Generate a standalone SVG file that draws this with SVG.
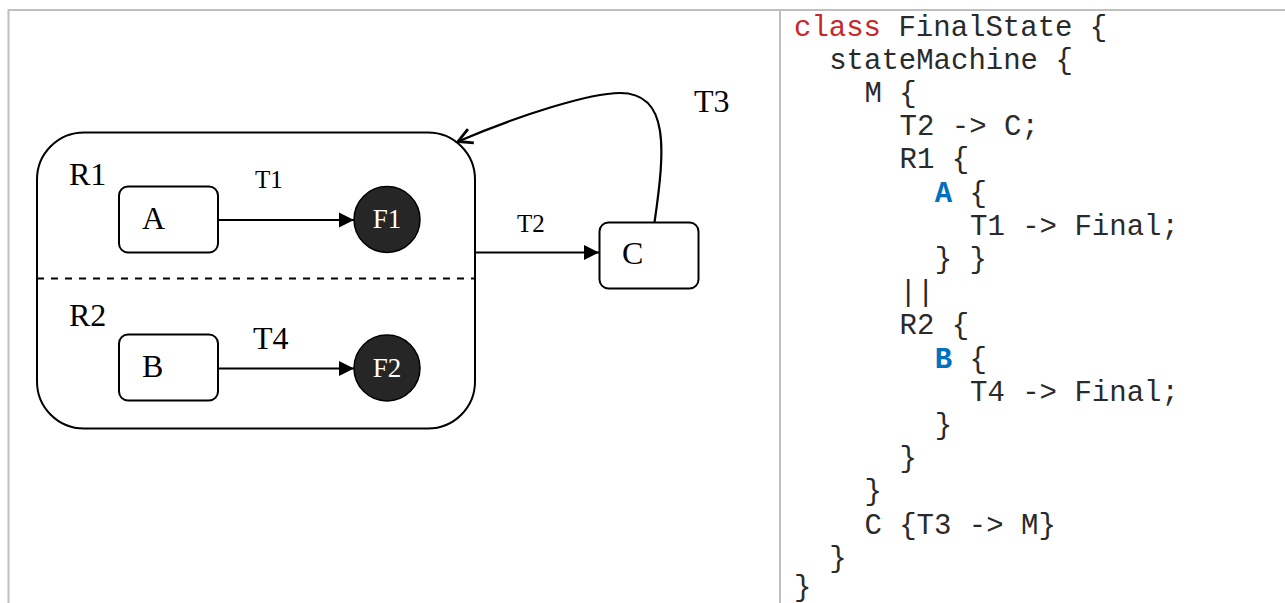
<svg xmlns="http://www.w3.org/2000/svg" width="1285" height="603" viewBox="0 0 1285 603">
<style>
.frame{stroke:#bfbfbf;stroke-width:2;fill:none}
.st{fill:#fff;stroke:#000;stroke-width:2}
.fin{fill:#262626;stroke:#000;stroke-width:1.5}
.lbl{font-family:"Liberation Serif","Times New Roman",serif;fill:#000}
.big{font-size:32px}
.sm{font-size:25px}
.fl{font-size:27px;fill:#fff}
.edge{fill:none;stroke:#000;stroke-width:2.2}
.code{font-family:"Liberation Mono","Courier New",monospace;font-size:29px;fill:#2a2a2a}
.kw{fill:#c82829}
.id{fill:#0070c0;font-weight:bold}
</style>
<defs>
<marker id="tri" markerWidth="16" markerHeight="16" viewBox="0 0 16 16" refX="15" refY="8" orient="auto" markerUnits="userSpaceOnUse">
<path d="M0,0.5 L15,8 L0,15.5 Z" fill="#000"/>
</marker>
<marker id="open" markerWidth="20" markerHeight="20" viewBox="0 0 20 20" refX="17" refY="10" orient="auto" markerUnits="userSpaceOnUse">
<path d="M3,2.5 L17,10 L3,17.5" fill="none" stroke="#000" stroke-width="2.8"/>
</marker>
</defs>
<rect width="1285" height="603" fill="#fff"/>
<g id="frame">
<path class="frame" d="M8.5,603 V10 H1285"/>
<path class="frame" d="M780,10 V603"/>
</g>
<g id="M">
<rect class="st" x="37" y="132.5" width="438" height="296" rx="47" ry="47"/>
<line x1="37" y1="278.5" x2="475" y2="278.5" stroke="#000" stroke-width="2" stroke-dasharray="7 7"/>
<text class="lbl big" x="69" y="185">R1</text>
<text class="lbl big" x="69" y="326">R2</text>
</g>
<g id="A">
<rect class="st" x="119" y="186.5" width="99" height="66" rx="9"/>
<text class="lbl big" x="142" y="228.5">A</text>
</g>
<g id="F1">
<circle class="fin" cx="387" cy="219.5" r="33"/>
<text class="lbl fl" x="387" y="228" text-anchor="middle">F1</text>
</g>
<g id="B">
<rect class="st" x="119" y="334.5" width="99" height="66" rx="9"/>
<text class="lbl big" x="142" y="377">B</text>
</g>
<g id="F2">
<circle class="fin" cx="387" cy="368" r="33"/>
<text class="lbl fl" x="387" y="376.5" text-anchor="middle">F2</text>
</g>
<g id="C">
<rect class="st" x="599.5" y="222.5" width="99" height="66" rx="9"/>
<text class="lbl big" x="622" y="264">C</text>
</g>
<g id="connectors">
<path class="edge" d="M218,220 H354" marker-end="url(#tri)"/>
<text class="lbl sm" x="255" y="187.5">T1</text>
<path class="edge" d="M218,368.5 H354" marker-end="url(#tri)"/>
<text class="lbl big" x="253" y="349">T4</text>
<path class="edge" d="M476,252.5 H599" marker-end="url(#tri)"/>
<text class="lbl sm" x="517" y="232">T2</text>
<path class="edge" d="M654.5,222.5 C665,150 670,93 620,93 C590,93 520,115 458,141.5" marker-end="url(#open)"/>
<text class="lbl big" x="694" y="112">T3</text>
</g>
<g id="code">
<text class="code" x="794" y="35.5"><tspan class="kw">class</tspan> FinalState {</text>
<text class="code" x="829.2" y="68.7">stateMachine {</text>
<text class="code" x="864.4" y="101.9">M {</text>
<text class="code" x="899.6" y="135.1">T2 -&gt; C;</text>
<text class="code" x="899.6" y="168.3">R1 {</text>
<text class="code" x="934.8" y="201.5"><tspan class="id">A</tspan> {</text>
<text class="code" x="970" y="234.7">T1 -&gt; Final;</text>
<text class="code" x="934.8" y="267.9">} }</text>
<text class="code" x="899.6" y="301.1">||</text>
<text class="code" x="899.6" y="334.3">R2 {</text>
<text class="code" x="934.8" y="367.5"><tspan class="id">B</tspan> {</text>
<text class="code" x="970" y="400.7">T4 -&gt; Final;</text>
<text class="code" x="934.8" y="433.9">}</text>
<text class="code" x="899.6" y="467.1">}</text>
<text class="code" x="864.4" y="500.3">}</text>
<text class="code" x="864.4" y="533.5">C {T3 -&gt; M}</text>
<text class="code" x="829.2" y="566.7">}</text>
<text class="code" x="794" y="596">}</text>
</g>
</svg>
